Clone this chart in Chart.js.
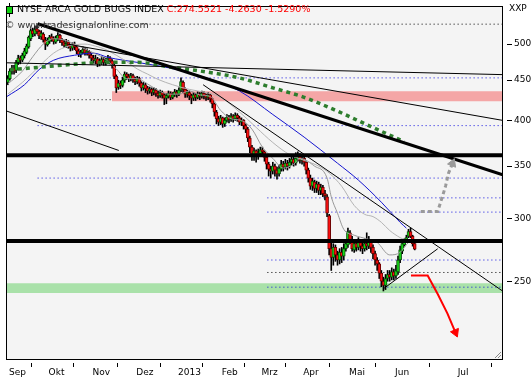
<!DOCTYPE html>
<html>
<head>
<meta charset="utf-8">
<script src="https://cdn.jsdelivr.net/npm/chart.js@4.4.1/dist/chart.umd.min.js"></script>
<style>
  html, body { margin: 0; padding: 0; background: #fff; }
  #wrap { width: 532px; height: 380px; }
</style>
</head>
<body>
<div id="wrap"><canvas id="chart" width="532" height="380"></canvas></div>
<script>
'use strict';

// Daily candles [open, high, low, close]; index 0 = first trading day of Sep 2012
const firstIndex = -2;
const ohlc = [
  [447,456,444,452], [452,465,450,462],
  [462,470,458,466], [466,470,458,462], [463,477,460,474], [474,484,471,480], [480,483,472,477],
  [477,487,475,484], [483,494,480,490], [488,500,486,497], [496,512,494,510], [508,523,505,520],
  [520,524,511,515], [515,527,512,522], [523,528,515,519], [519,521,508,512], [511,520,507,516],
  [515,517,503,506], [506,510,492,500], [499,509,497,505], [504,513,501,510], [511,515,504,507],
  [508,511,500,504], [503,512,501,509], [508,517,505,513], [513,515,502,506], [506,508,498,502],
  [503,506,495,498], [497,507,495,503], [503,505,494,497], [497,500,490,494], [494,502,491,499],
  [500,503,492,496], [496,498,486,490], [490,493,482,485], [485,491,481,488], [488,496,486,492],
  [492,495,484,487], [487,493,484,489], [489,491,480,484], [484,487,476,480], [480,484,473,477],
  [476,484,472,479], [479,481,468,472], [472,479,469,475], [474,482,471,478], [478,481,470,474],
  [474,480,470,477], [477,484,474,480], [480,482,472,476], [476,478,466,471], [470,472,452,455],
  [455,457,434,440], [441,450,438,446], [446,449,439,443], [443,454,441,450], [450,461,447,458],
  [458,460,451,455], [455,458,448,452], [452,459,449,456], [456,458,447,451], [451,454,444,448],
  [448,455,445,452], [452,454,442,446], [446,448,436,440], [440,447,437,444], [444,446,434,439],
  [440,442,432,436], [436,441,433,438], [438,440,430,434], [434,440,431,437], [437,439,429,433],
  [433,436,427,430], [430,437,428,434], [434,436,427,431], [431,433,419,427], [427,433,420,430],
  [429,436,427,433], [433,435,425,428], [428,434,426,431], [431,438,429,435], [435,437,428,432],
  [432,440,430,437], [437,453,435,448], [447,449,434,438], [438,440,428,432], [432,437,428,434],
  [434,436,425,430], [430,432,420,427], [427,434,424,431], [431,433,424,428], [428,435,426,432],
  [432,434,425,429], [429,436,427,433], [433,435,426,430], [430,432,424,428], [428,434,425,431],
  [431,432,422,426], [426,427,415,420], [420,421,405,410], [410,412,396,402], [402,405,394,398],
  [398,406,395,403], [403,404,392,396], [396,403,393,400], [400,407,398,404], [404,406,397,401],
  [401,408,399,405], [405,407,398,402], [402,409,400,406], [406,408,399,403], [403,405,395,398],
  [398,403,394,400], [400,401,390,394], [394,396,386,390], [390,392,376,380], [380,382,364,370],
  [370,372,356,362], [362,369,356,366], [366,367,354,360], [360,368,357,364], [363,370,360,367],
  [367,370,361,365], [365,366,355,359], [359,360,347,352], [352,354,340,347], [347,350,338,345],
  [345,354,342,350], [350,352,340,346], [346,349,337,342], [342,351,340,348], [347,356,345,352],
  [352,355,345,349], [349,357,347,353], [353,356,346,350], [350,358,348,354], [354,361,351,357],
  [357,360,350,353], [353,364,351,358], [357,365,355,361], [361,363,353,356], [356,361,352,358],
  [358,360,350,354], [354,355,342,346], [346,348,334,338], [338,341,327,330], [330,338,326,335],
  [334,336,324,328], [328,335,324,332], [332,334,322,326], [326,332,322,329], [329,331,320,323],
  [323,326,317,321], [320,322,302,305], [303,304,270,275], [275,282,258,268], [268,279,262,276],
  [276,278,265,270], [270,273,262,266], [266,275,263,272], [272,276,264,269], [269,279,266,275],
  [275,281,273,279], [278,292,276,289], [288,290,279,282], [282,285,273,275], [274,282,272,279],
  [279,282,273,276], [276,284,274,280], [280,282,273,277], [277,281,271,275], [275,283,273,279],
  [279,288,274,277], [277,285,275,281], [281,282,272,276], [276,278,267,271], [271,273,262,266],
  [266,268,258,263], [263,264,252,256], [256,258,246,250], [250,253,243,247], [247,255,244,252],
  [252,258,250,255], [255,258,250,253], [253,260,251,257], [257,259,251,254], [254,262,252,258],
  [257,269,255,266], [266,277,264,274], [273,281,271,279], [278,283,277,281], [281,286,280,284],
  [285,291,284,289], [289,292,284,285], [285,286,277,279], [279,282,274,274.55]
];

const monthTicks = [0, 19, 40, 61, 81, 102, 121, 141, 163, 185, 215];
const monthLabels = ['Sep', 'Okt', 'Nov', 'Dez', '2013', 'Feb', 'Mrz', 'Apr', 'Mai', 'Jun', 'Jul'];
const priceTicks = [250, 300, 350, 400, 450, 500];

// moving averages, [day index, value]
const avgFast = [[-2,445],[5,462],[10,482],[15,500],[20,508],[25,506],[30,500],[35,493],[40,486],[45,478],
  [50,465],[55,452],[60,452],[65,445],[70,437],[75,432],[80,432],[85,436],[90,431],[95,429],[100,412],
  [105,402],[110,400],[115,390],[120,370],[125,358],[130,348],[135,352],[138,358],[145,350],[151,338],
  [153,320],[156,305],[159,291],[164,286],[170,283],[175,280],[181,270],[186,272],[190,280],[193,282]];
const avgSlow = [[-2,432],[5,447],[10,460],[15,474],[20,487],[25,495],[30,499],[35,500],[40,497],[45,492],
  [50,484],[55,475],[60,465],[65,458],[70,451],[77,444],[85,438],[93,434],[100,428],[109,410],[117,392],
  [125,375],[133,362],[140,356],[147,350],[152,343],[158,330],[164,312],[169,304],[173,302],[177,297],
  [181,290],[186,284],[190,281],[193,280]];
const avgBlue = [[-2.4,429],[6,444],[13,464],[20,477],[30,484],[39,487],[46,481],[60,474],[76,466],
  [92,454],[109,436],[125,407],[140,381],[156,353],[166,336],[177,315],[186,297],[189,292]];
const avgLong = [[-1,464],[12,467],[28,471],[44,474],[60,474],[77,467],[93,461],[109,453],[125,440],
  [140,428],[156,411],[171,394],[186,378],[188,376]];

// horizontal levels
const thickLevels = [361.3, 281.3];
const blueLevels = [453, 394, 338, 319, 306, 266, 245.7];
const blueLevelFrom = [12.3, 12.3, 12.3, 122.4, 122.4, 122.4, 122.4];
const blackLevels = [530, 425, 256.5];
const blackLevelFrom = [12.3, 12.3, 122.4];
const blackLevelTo = [240, 47.9, 240];
const redZone = [423, 435.5];
const redZoneFrom = 47.9;
const greenZone = [241.5, 248.6];
const greenZoneFrom = -3;

// trend lines [day index, price]
const trendThick = [[12.3, 530.6], [240, 338]];
const trendUpper = [[-2.4, 473.4], [240, 457]];
const trendMiddle = [[25.1, 500.8], [240, 398]];
const trendLowLeft = [[-2.4, 411], [51.2, 366.4]];
const trendChannel = [[91.6, 444], [240, 238]];
const trendSupport = [[178.4, 245], [204, 274.9]];

// drawn arrows
const arrowUp = [[195.9, 306.6], [204, 306.6], [206.4, 321], [207.8, 330.4], [209.2, 342.9], [211.1, 352.9]];
const arrowDown = [[191.2, 254.3], [199.2, 254.3], [204, 240.8], [208.7, 227.4], [212.5, 215.3]];

const xMin = -2.85, xMax = 235.3;
const yMin = 198.6, yMax = 558.9;

const pts = arr => arr.map(([x, y]) => ({ x, y }));
const span = (v, from, to) => [{ x: from, y: v }, { x: to, y: v }];

function lineSet(data, color, width, extra) {
  return Object.assign({
    type: 'line', data, borderColor: color, borderWidth: width,
    pointRadius: 0, fill: false, tension: 0, order: 30,
  }, extra || {});
}

const datasets = [];

// zones
datasets.push(lineSet(span(redZone[1], redZoneFrom, xMax + 2), 'transparent', 0, {
  fill: { target: { value: redZone[0] } }, backgroundColor: 'rgba(244,140,140,0.75)', order: 100,
}));
datasets.push(lineSet(span(greenZone[1], greenZoneFrom, xMax + 2), 'transparent', 0, {
  fill: { target: { value: greenZone[0] } }, backgroundColor: 'rgba(150,220,150,0.8)', order: 100,
}));

// dotted levels
blueLevels.forEach((v, i) => {
  datasets.push(lineSet(span(v, blueLevelFrom[i], xMax + 2), '#1010e0', 1, { borderDash: [1, 3], order: 90 }));
});
blackLevels.forEach((v, i) => {
  datasets.push(lineSet(span(v, blackLevelFrom[i], blackLevelTo[i]), '#000', 1, { borderDash: [1, 3], order: 90 }));
});

// candles: wicks behind, bodies in front
const candleX = i => firstIndex + i;
const isUp = i => ohlc[i] && ohlc[i][3] >= ohlc[i][0];
datasets.push({
  type: 'bar', order: 60, grouped: false, barThickness: 1, backgroundColor: '#000',
  data: ohlc.map((d, i) => ({ x: candleX(i), y: [d[2], d[1]] })),
});
datasets.push({
  type: 'bar', order: 50, grouped: false, barThickness: 3, minBarLength: 2,
  borderWidth: 1, borderSkipped: false,
  borderColor: ctx => (isUp(ctx.dataIndex) ? '#0a500a' : '#700000'),
  backgroundColor: ctx => (isUp(ctx.dataIndex) ? '#18d818' : '#ff1010'),
  data: ohlc.map((d, i) => ({ x: candleX(i), y: [d[0], d[3]] })),
});

// averages
datasets.push(lineSet(pts(avgSlow), '#b4b4b4', 1, { cubicInterpolationMode: 'monotone', order: 40 }));
datasets.push(lineSet(pts(avgFast), '#999999', 1, { cubicInterpolationMode: 'monotone', order: 40 }));
datasets.push(lineSet(pts(avgBlue), '#1515d0', 1, { cubicInterpolationMode: 'monotone', order: 40 }));
datasets.push(lineSet(pts(avgLong), '#2d7d2d', 3.5, { borderDash: [4, 4], cubicInterpolationMode: 'monotone', order: 35 }));

// trend lines
datasets.push(lineSet(pts(trendThick), '#000', 3));
datasets.push(lineSet(pts(trendUpper), '#000', 1));
datasets.push(lineSet(pts(trendMiddle), '#000', 1));
datasets.push(lineSet(pts(trendLowLeft), '#000', 1));
datasets.push(lineSet(pts(trendChannel), '#000', 1));
datasets.push(lineSet(pts(trendSupport), '#000', 1));

// thick horizontal levels
thickLevels.forEach(v => datasets.push(lineSet(span(v, xMin - 2, xMax + 2), '#000', 4, { order: 20 })));

// arrows with heads on the last point
function arrowSet(arr, color, width, dash, angle) {
  const last = arr.length - 1;
  return lineSet(pts(arr), color, width, {
    borderDash: dash, order: 10,
    pointStyle: 'triangle',
    pointRadius: c => (c.dataIndex === last ? 5 : 0),
    pointRotation: angle,
    pointBackgroundColor: color, pointBorderColor: color, pointBorderWidth: 1,
  });
}
datasets.push(arrowSet(arrowUp, '#9a9a9a', 3, [4, 3], 22));
datasets.push(arrowSet(arrowDown, '#ff0000', 2, [], 157));

const framePlugin = {
  id: 'frame',
  beforeDraw(chart) {
    const { ctx, chartArea: a } = chart;
    ctx.save();
    ctx.fillStyle = '#f4f4f4';
    ctx.fillRect(a.left, a.top, a.right - a.left, a.bottom - a.top);
    ctx.restore();
  },
  afterDraw(chart) {
    const { ctx, chartArea: a } = chart;
    ctx.save();
    ctx.strokeStyle = '#000';
    ctx.lineWidth = 1;
    ctx.strokeRect(a.left + 0.5, a.top + 0.5, a.right - a.left - 1, a.bottom - a.top - 1);

    // resize grip in the lower right corner
    ctx.strokeStyle = '#888';
    ctx.beginPath();
    ctx.moveTo(a.right - 8, a.bottom - 2); ctx.lineTo(a.right - 2, a.bottom - 8);
    ctx.moveTo(a.right - 5, a.bottom - 2); ctx.lineTo(a.right - 2, a.bottom - 5);
    ctx.stroke();

    // title icon
    ctx.fillStyle = '#000';
    ctx.fillRect(9, 3, 1, 14);
    ctx.fillRect(6, 6, 7, 8);
    ctx.fillStyle = '#10d010';
    ctx.fillRect(7, 7, 5, 6);

    ctx.font = '9.5px "DejaVu Sans"';
    ctx.textBaseline = 'middle';
    ctx.textAlign = 'left';
    ctx.fillStyle = '#000';
    const title = 'NYSE ARCA GOLD BUGS INDEX ';
    ctx.fillText(title, 17, 10);
    ctx.fillStyle = '#ff0000';
    ctx.fillText('C:274.5521 -4.2630 -1.5290%', 17 + ctx.measureText(title).width, 10);
    ctx.fillStyle = '#333';
    ctx.fillText('\u00a9 www.tradesignalonline.com', 5, 26);

    ctx.fillStyle = '#000';
    ctx.font = '9px "DejaVu Sans"';
    ctx.fillText('XXP', 509, 9);
    ctx.restore();
  },
};

Chart.defaults.font.family = '"DejaVu Sans", sans-serif';
Chart.defaults.font.size = 9;
Chart.defaults.color = '#000';

new Chart(document.getElementById('chart'), {
  type: 'bar',
  data: { datasets },
  options: {
    responsive: false,
    animation: false,
    devicePixelRatio: 1,
    layout: { padding: { left: 1, top: 0, right: 0, bottom: 0 } },
    plugins: { legend: { display: false }, tooltip: { enabled: false } },
    scales: {
      x: {
        type: 'linear', min: xMin, max: xMax, offset: false,
        grid: { drawOnChartArea: false, tickLength: 7, tickBorderDash: [0, 3, 4, 0], color: '#000' },
        border: { display: false },
        afterBuildTicks: s => { s.ticks = monthTicks.map(v => ({ value: v })); },
        afterFit: s => { s.height = 20; s.paddingLeft = 0; s.paddingRight = 0; },
        ticks: {
          align: 'start', padding: 0, labelOffset: -3, maxRotation: 0, autoSkip: false,
          callback: v => monthLabels[monthTicks.indexOf(v)],
        },
      },
      y: {
        type: 'logarithmic', position: 'right', min: yMin, max: yMax,
        grid: { drawOnChartArea: false, tickLength: 9, tickBorderDash: [0, 4, 5, 0], color: '#000' },
        border: { display: false },
        afterBuildTicks: s => { s.ticks = priceTicks.map(v => ({ value: v })); },
        afterFit: s => { s.width = 29; s.paddingTop = 0; s.paddingBottom = 0; },
        ticks: { padding: 2, callback: v => String(v) },
      },
    },
  },
  plugins: [framePlugin],
});
</script>
</body>
</html>
